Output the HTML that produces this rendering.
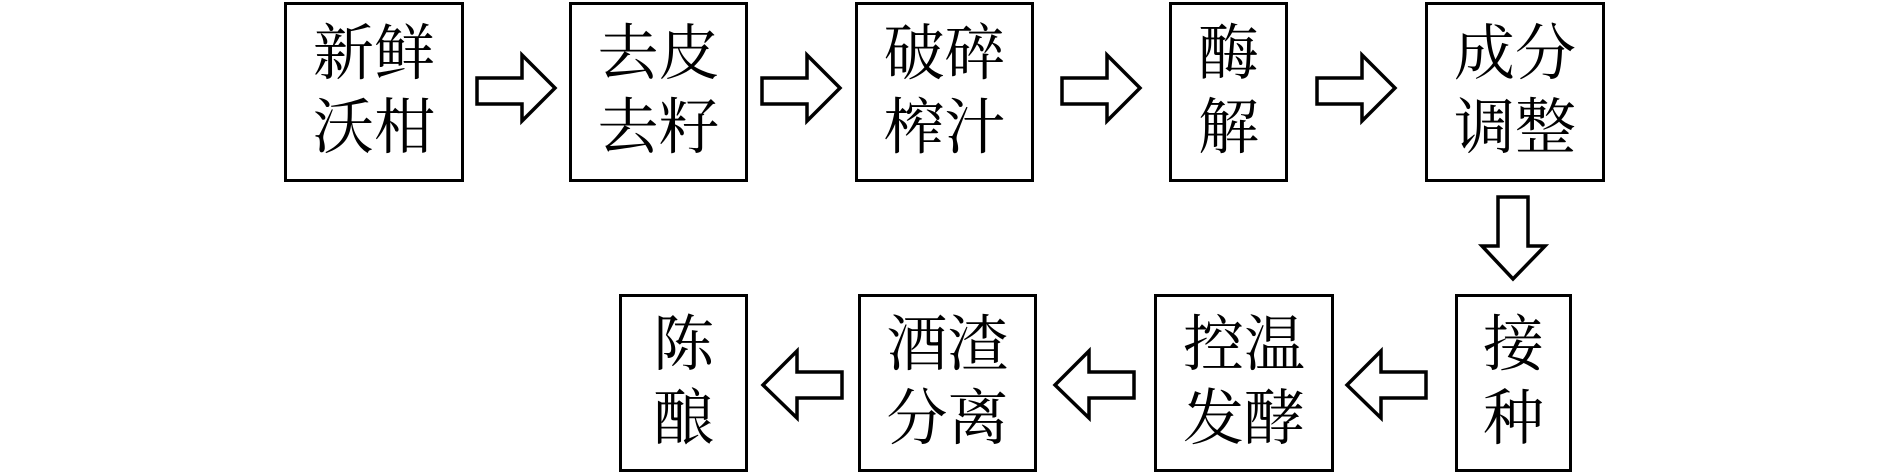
<!DOCTYPE html>
<html><head><meta charset="utf-8"><style>
body{margin:0;width:1890px;height:474px;background:#fff;position:relative;overflow:hidden;font-family:"Liberation Serif","Noto Serif CJK SC",serif}
.b{position:absolute;box-sizing:border-box;border:3.5px solid #000;display:flex;align-items:center;justify-content:center;text-align:center;font-size:61px;line-height:74px;color:#000}
svg{position:absolute;left:0;top:0}
</style></head><body>
<div class="b" style="left:284px;top:2px;width:180px;height:180px">新鲜<br>沃柑</div>
<div class="b" style="left:569px;top:2px;width:179px;height:180px">去皮<br>去籽</div>
<div class="b" style="left:855px;top:2px;width:179px;height:180px">破碎<br>榨汁</div>
<div class="b" style="left:1169px;top:2px;width:119px;height:180px">酶<br>解</div>
<div class="b" style="left:1425px;top:2px;width:180px;height:180px">成分<br>调整</div>
<div class="b" style="left:619px;top:294px;width:129px;height:178px">陈<br>酿</div>
<div class="b" style="left:858px;top:294px;width:179px;height:178px">酒渣<br>分离</div>
<div class="b" style="left:1154px;top:294px;width:180px;height:178px">控温<br>发酵</div>
<div class="b" style="left:1455px;top:294px;width:117px;height:178px">接<br>种</div>
<svg width="1890" height="474" fill="#fff" stroke="#000" stroke-width="3.5" stroke-linejoin="miter">
<g id="r"><polygon points="477,78 522,78 522,55 555,88 522,121 522,104 477,104"/></g>
<use href="#r" x="285"/><use href="#r" x="585"/><use href="#r" x="840"/>
<polygon points="1498,197 1528,197 1528,246 1545,246 1513,279 1482,246 1498,246"/>
<g id="l"><polygon points="1426,372 1381,372 1381,351 1347,385 1381,418 1381,398 1426,398"/></g>
<use href="#l" x="-292"/><use href="#l" x="-584"/>
</svg>
</body></html>
